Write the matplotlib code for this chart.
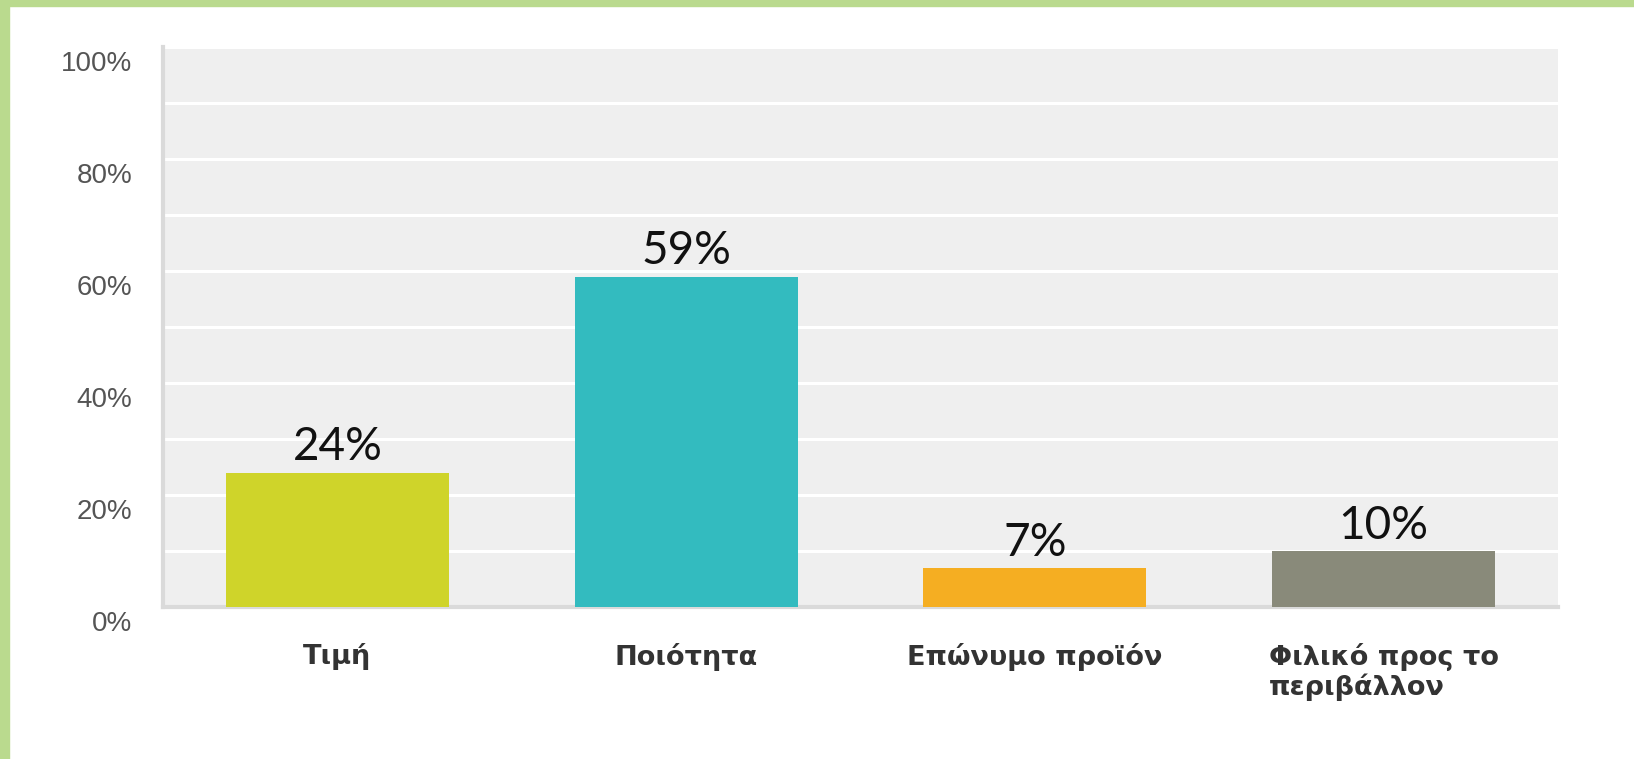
import matplotlib.pyplot as plt
import matplotlib.transforms as mtransforms
from matplotlib.patches import Rectangle
from matplotlib.ticker import MultipleLocator

# Data
categories = ["Τιμή", "Ποιότητα", "Επώνυμο προϊόν", "Φιλικό προς το\nπεριβάλλον"]
values = [24, 59, 7, 10]
bar_colors = ["#CFD42A", "#33BBBF", "#F5AE22", "#898A7A"]
yticks = [0, 20, 40, 60, 80, 100]
ytick_labels = ["0%", "20%", "40%", "60%", "80%", "100%"]

W, H = 1634, 759
fig = plt.figure(figsize=(W / 100, H / 100), dpi=100)
fig.patch.set_facecolor("white")

# green frame on top and left
fig.patches.append(Rectangle((0, 0), 9 / W, 1, transform=fig.transFigure,
                             color="#BADA8E", zorder=0))
fig.patches.append(Rectangle((0, 1 - 6 / H), 1, 6 / H, transform=fig.transFigure,
                             color="#BADA8E", zorder=0))

ax = fig.add_axes([163 / W, (H - 607) / H, 1395 / W, 560 / H])
ax.set_facecolor("#EFEFEF")

x = range(len(categories))
bars = ax.bar(x, values, width=0.64, color=bar_colors, zorder=3)

for b, v in zip(bars, values):
    ax.annotate(f"{v}%", (b.get_x() + b.get_width() / 2, v),
                xytext=(0, 3), textcoords="offset points",
                ha="center", va="bottom", fontsize=33, family="Lato",
                color="#111111", zorder=4)

ax.set_xlim(-0.5, len(categories) - 0.5)
ax.set_ylim(0, 100)
ax.yaxis.set_minor_locator(MultipleLocator(10))
ax.set_yticks(yticks)
ax.set_yticklabels(ytick_labels, fontsize=20, color="#555555", family="Liberation Sans")
ax.grid(True, which="both", axis="y", color="white", linewidth=2.2, zorder=1)
ax.tick_params(axis="y", which="both", length=0, pad=22)

# y labels sit a bit below their gridlines
offset = mtransforms.ScaledTranslation(0, -14 / 100, fig.dpi_scale_trans)
for lbl in ax.get_yticklabels():
    lbl.set_transform(lbl.get_transform() + offset)

ax.set_xticks(list(x))
ax.set_xticklabels(categories, fontsize=19.5, fontweight="bold", color="#333333",
                   family="DejaVu Sans", multialignment="left", linespacing=1.1)
ax.tick_params(axis="x", length=0, pad=26)

for s in ["top", "right"]:
    ax.spines[s].set_visible(False)
ax.spines["left"].set_color("#DADADA")
ax.spines["left"].set_linewidth(3)
ax.spines["bottom"].set_color("#DADADA")
ax.spines["bottom"].set_linewidth(3)
ax.set_axisbelow(True)

fig.savefig("out.png", dpi=100, facecolor="white")
